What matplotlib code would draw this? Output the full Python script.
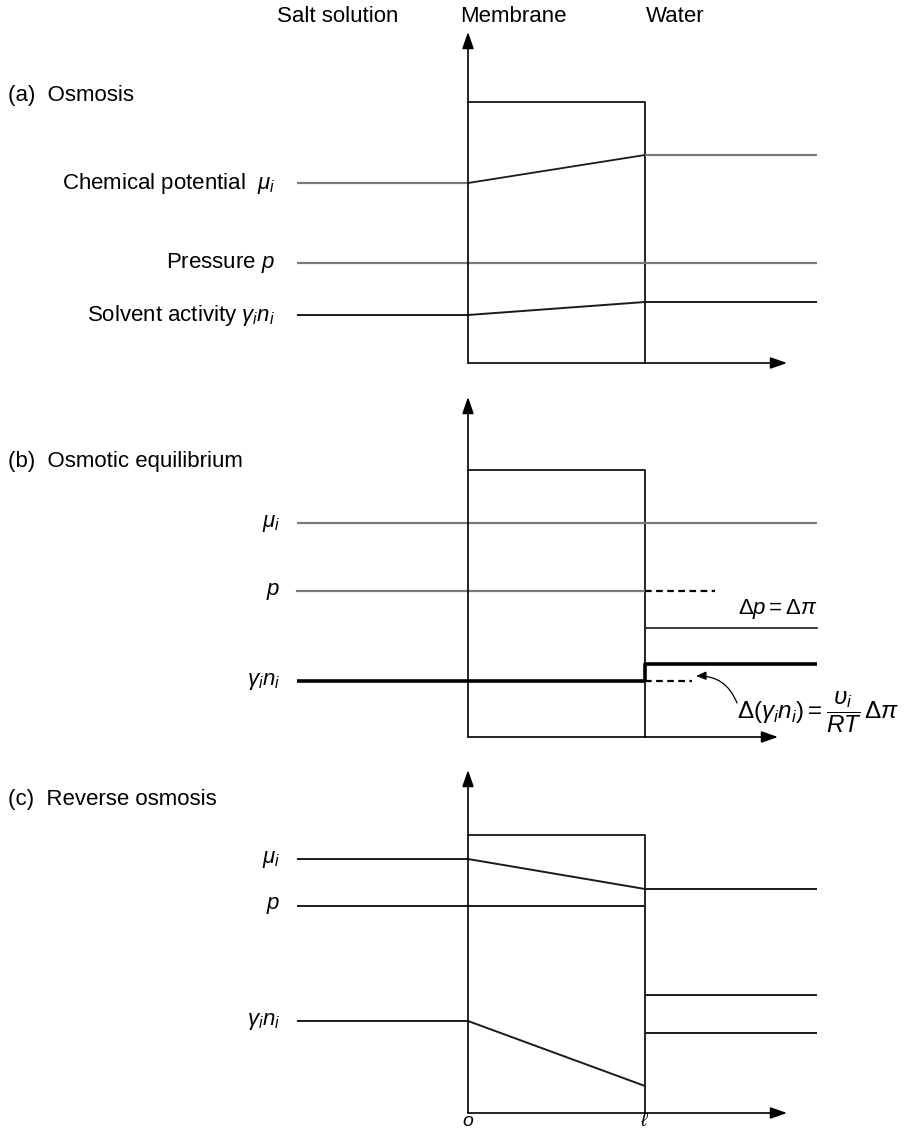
import matplotlib
matplotlib.use("Agg")
import matplotlib.pyplot as plt

plt.rcParams['font.family'] = ['Liberation Sans', 'DejaVu Sans']
plt.rcParams['mathtext.fontset'] = 'custom'
plt.rcParams['mathtext.rm'] = 'Liberation Sans'
plt.rcParams['mathtext.it'] = 'Liberation Sans:italic'
plt.rcParams['mathtext.bf'] = 'Liberation Sans:bold'

# diagram units (same scale as the picture, y grows downward)
x_left, x_mem0, x_mem1, x_right = 297, 468, 645, 817

panel_titles = ["(a)  Osmosis", "(b)  Osmotic equilibrium", "(c)  Reverse osmosis"]
title_y = [96, 462, 800]
axis_bottom = [363, 737, 1113]
axis_top = [32, 397, 770]
box_top = [102, 470, 835]
xarrow_end = [787, 778, 787]

# each level: (left value, value at inner side of x=l, right value)
levels_a = {"mu": (183, 155, 155), "p": (263, 263, 263), "g": (315, 302, 302)}
levels_b = {"mu": (523, 523, 523), "p": (591, 591, 628), "g": (681, 681, 664)}
levels_c = {"mu": (859, 889, 889), "p": (906, 906, 995), "g": (1021, 1086, 1033)}

labels_a = ["Chemical potential  $\\mu_i$", "Pressure $p$", "Solvent activity $\\gamma_i n_i$"]
labels_bc = ["$\\mu_i$", "$p$", "$\\gamma_i n_i$"]

gray = "#7a7a7a"
black = "#1a1a1a"

fig = plt.figure(figsize=(9.21, 11.29), dpi=100)
ax = fig.add_axes([0, 0, 1, 1])
ax.set_xlim(0, 921)
ax.set_ylim(1129, 0)
ax.axis("off")

fs = 16

# column headers
ax.text(338, 16, "Salt solution", fontsize=fs, ha="center", va="center")
ax.text(513, 16, "Membrane", fontsize=fs, ha="center", va="center")
ax.text(675, 16, "Water", fontsize=fs, ha="center", va="center")

arrow = dict(arrowstyle="-|>,head_length=1.0,head_width=0.35", color="black", lw=1.2,
             shrinkA=0, shrinkB=0)

for k in range(3):
    yb = axis_bottom[k]
    ax.annotate("", xy=(x_mem0, axis_top[k]), xytext=(x_mem0, yb), arrowprops=arrow)
    ax.annotate("", xy=(xarrow_end[k], yb), xytext=(x_mem0, yb), arrowprops=arrow)
    ax.plot([x_mem0, x_mem1, x_mem1], [box_top[k], box_top[k], yb], color="black", lw=1.2)
    ax.text(8, title_y[k], panel_titles[k], fontsize=fs, ha="left", va="center")


def level(vals, c_left, c_mid, c_right, lw=1.6):
    l, m, r = vals
    ax.plot([x_left, x_mem0], [l, l], color=c_left, lw=lw, solid_capstyle="butt")
    ax.plot([x_mem0, x_mem1], [l, m], color=c_mid, lw=lw if c_mid == c_left else 1.3,
            solid_capstyle="butt")
    ax.plot([x_mem1, x_right], [r, r], color=c_right, lw=lw, solid_capstyle="butt")


# (a)
level(levels_a["mu"], gray, black, gray)
level(levels_a["p"], gray, gray, gray)
level(levels_a["g"], black, black, black, lw=1.4)
for lab, key in zip(labels_a, ["mu", "p", "g"]):
    ax.text(275, levels_a[key][0], lab, fontsize=fs, ha="right", va="center")

# (b)
level(levels_b["mu"], gray, gray, gray)
l, m, r = levels_b["p"]
ax.plot([x_left, x_mem1], [l, m], color=gray, lw=1.6)
ax.plot([x_mem1, x_right], [r, r], color=black, lw=1.2)
ax.plot([x_mem1, 715], [m, m], color="black", lw=1.6, ls=(0, (3, 2)))
l, m, r = levels_b["g"]
ax.plot([x_left, x_mem1], [l, m], color="black", lw=2.6, solid_capstyle="butt")
ax.plot([x_mem1, x_mem1, x_right], [m, r, r], color="black", lw=2.6, solid_capstyle="butt")
ax.plot([x_mem1, 692], [m, m], color="black", lw=1.6, ls=(0, (3, 2)))
for lab, key in zip(labels_bc, ["mu", "p", "g"]):
    ax.text(280, levels_b[key][0], lab, fontsize=fs, ha="right", va="center")
ax.text(778, 609, "$\\Delta p = \\Delta\\pi$", fontsize=fs, ha="center", va="center")
ax.text(737, 712, "$\\Delta(\\gamma_i n_i) = \\dfrac{\\upsilon_i}{RT}\\,\\Delta\\pi$",
        fontsize=17.5, ha="left", va="center")
ax.annotate("", xy=(696, 676), xytext=(737, 703),
            arrowprops=dict(arrowstyle="-|>,head_length=0.6,head_width=0.25", color="black",
                            lw=0.9, shrinkA=0, shrinkB=0, connectionstyle="arc3,rad=0.35"))

# (c)
level(levels_c["mu"], black, black, black, lw=1.4)
level(levels_c["p"], black, black, black, lw=1.4)
level(levels_c["g"], black, black, black, lw=1.4)
for lab, key in zip(labels_bc, ["mu", "p", "g"]):
    ax.text(280, levels_c[key][0], lab, fontsize=fs, ha="right", va="center")

ax.text(x_mem0, 1126, "$o$", fontsize=14, ha="center", va="baseline")
ax.text(x_mem1, 1126, "$\\ell$", fontsize=14, ha="center", va="baseline")

fig.savefig("out.png", dpi=100)
